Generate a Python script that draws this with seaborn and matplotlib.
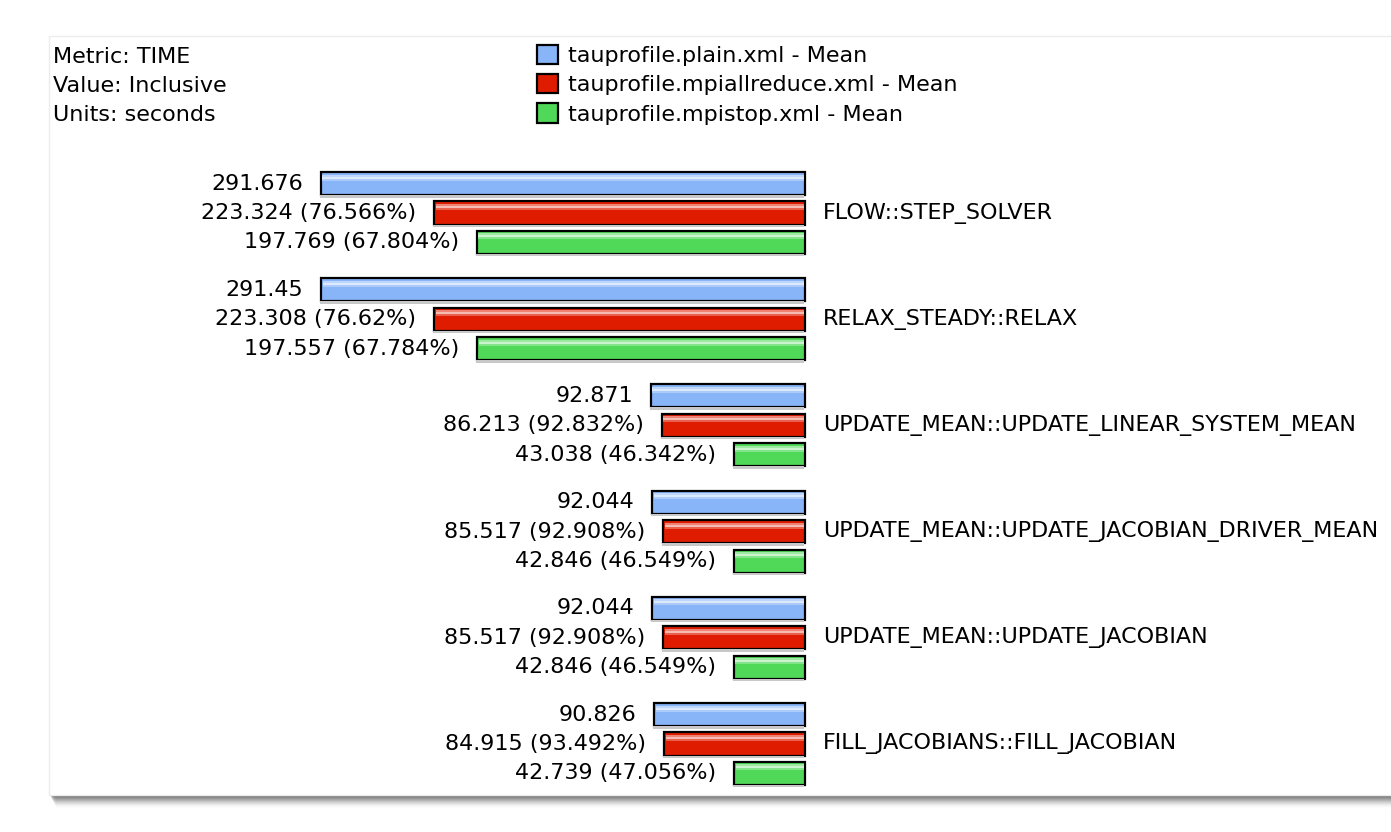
import matplotlib
matplotlib.use("Agg")
import matplotlib.pyplot as plt
from matplotlib.patches import Rectangle
import seaborn as sns
import pandas as pd
import numpy as np

# ---------------- data ----------------
functions = [
    "FLOW::STEP_SOLVER",
    "RELAX_STEADY::RELAX",
    "UPDATE_MEAN::UPDATE_LINEAR_SYSTEM_MEAN",
    "UPDATE_MEAN::UPDATE_JACOBIAN_DRIVER_MEAN",
    "UPDATE_MEAN::UPDATE_JACOBIAN",
    "FILL_JACOBIANS::FILL_JACOBIAN",
]
files = [
    "tauprofile.plain.xml - Mean",
    "tauprofile.mpiallreduce.xml - Mean",
    "tauprofile.mpistop.xml - Mean",
]
plain_vals = [291.676, 291.45, 92.871, 92.044, 92.044, 90.826]
allreduce_vals = [223.324, 223.308, 86.213, 85.517, 85.517, 84.915]
allreduce_pct = ["76.566%", "76.62%", "92.832%", "92.908%", "92.908%", "93.492%"]
stop_vals = [197.769, 197.557, 43.038, 42.846, 42.846, 42.739]
stop_pct = ["67.804%", "67.784%", "46.342%", "46.549%", "46.549%", "47.056%"]
plain_text = ["291.676", "291.45", "92.871", "92.044", "92.044", "90.826"]
allreduce_text = ["223.324", "223.308", "86.213", "85.517", "85.517", "84.915"]
stop_text = ["197.769", "197.557", "43.038", "42.846", "42.846", "42.739"]
info_lines = ["Metric: TIME", "Value: Inclusive", "Units: seconds"]
colors = ["#88b4f8", "#e01c00", "#50d858"]

all_labels = [
    plain_text,
    ["%s (%s)" % (v, p) for v, p in zip(allreduce_text, allreduce_pct)],
    ["%s (%s)" % (v, p) for v, p in zip(stop_text, stop_pct)],
]

df = pd.DataFrame({
    "function": functions * 3,
    "file": [files[0]] * 6 + [files[1]] * 6 + [files[2]] * 6,
    "value": plain_vals + allreduce_vals + stop_vals,
})

# ---------------- figure ----------------
W, H = 1391, 832
FS = 16
plt.rcParams["font.family"] = ["DejaVu Sans"]
fig = plt.figure(figsize=(W / 100, H / 100), dpi=100)
fig.patch.set_facecolor("white")

def fr(x0, y0, x1, y1, **kw):
    r = Rectangle((x0 / W, 1 - y1 / H), (x1 - x0) / W, (y1 - y0) / H,
                  transform=fig.transFigure, **kw)
    fig.add_artist(r)
    return r

# panel + drop shadow
for k in range(14):
    a = 0.26 * (1 - k / 14) ** 1.6
    fr(50 + k * 0.5, 795, W, 796 + k, facecolor=(0.35, 0.35, 0.35, a), edgecolor="none", zorder=-3)
fr(49, 36, W + 5, 795, facecolor="white", edgecolor="#ececec", linewidth=1, zorder=-2)

ax = fig.add_axes([0, 0, 1, 1])
ax.patch.set_alpha(0)

PX_X = 1 / 1.66     # data units per pixel horizontally
PX_Y = 1 / 106.2    # category units per pixel vertically

sns.barplot(data=df, y="function", x="value", hue="file", orient="h",
            palette=colors, saturation=1, width=0.833, gap=0.22,
            edgecolor="black", linewidth=1.6, ax=ax, legend=False, errorbar=None)

ax.set_xlim(805 * PX_X, (805 - W) * PX_X)
ax.set_ylim((H - 213) * PX_Y, -213 * PX_Y)
ax.axis("off")

# gloss stripes, soft bar shadows and value labels
for ci, cont in enumerate(ax.containers):
    base = np.array(matplotlib.colors.to_rgb(colors[ci]))
    for j, p in enumerate(cont.patches):
        x0, y0, w, h = p.get_x(), p.get_y(), p.get_width(), p.get_height()
        # shadow below bar
        ax.add_patch(Rectangle((x0 + 1 * PX_X, y0 + h), w, 2.5 * PX_Y,
                               facecolor="#c8c8c8", edgecolor="none", zorder=1))
        ax.add_patch(Rectangle((x0 + 1.5 * PX_X, y0 + 2.5 * PX_Y), w - 3 * PX_X, 2.0 * PX_Y,
                               facecolor=base + (1 - base) * 0.45, edgecolor="none", zorder=3))
        ax.add_patch(Rectangle((x0 + 1.5 * PX_X, y0 + 4.5 * PX_Y), w - 3 * PX_X, 2.0 * PX_Y,
                               facecolor=base + (1 - base) * 0.7, edgecolor="none", zorder=3))
        ax.add_patch(Rectangle((x0 + 1.5 * PX_X, y0 + 6.5 * PX_Y), w - 3 * PX_X, 2.0 * PX_Y,
                               facecolor=base + (1 - base) * 0.3, edgecolor="none", zorder=3))
        ax.annotate(all_labels[ci][j], xy=(x0 + w, y0 + h / 2), xytext=(-18, 0),
                    textcoords="offset pixels", ha="right", va="center",
                    fontsize=FS, color="black")

for j, name in enumerate(functions):
    ax.annotate(name, xy=(0, j), xytext=(18, 0), textcoords="offset pixels",
                ha="left", va="center", fontsize=FS, color="black")

# info text
for i, line in enumerate(info_lines):
    fig.text(53 / W, 1 - (57 + 29 * i) / H, line, ha="left", va="center", fontsize=FS)

# legend
ax.legend(handles=ax.containers, labels=files, loc="upper left",
          bbox_to_anchor=(537 / W, 1 - 45 / H), bbox_transform=fig.transFigure,
          frameon=False, fontsize=FS, handlelength=0.95, handleheight=0.95,
          handletextpad=0.45, labelspacing=0.36, borderpad=0, borderaxespad=0)

fig.savefig("out.png", dpi=100)
